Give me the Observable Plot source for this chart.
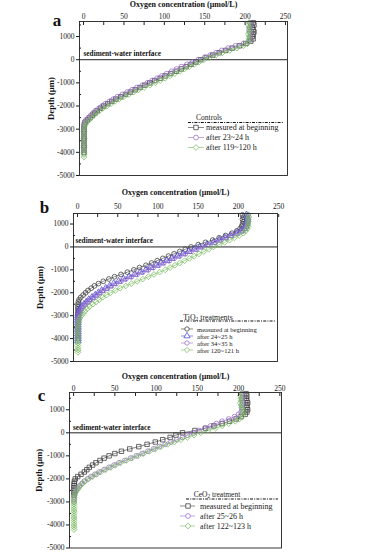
<!DOCTYPE html>
<html><head><meta charset="utf-8">
<script src="https://cdn.jsdelivr.net/npm/d3@7"></script>
<script src="https://cdn.jsdelivr.net/npm/@observablehq/plot@0.6"></script>
<style>
html,body{margin:0;padding:0;background:#fff;}
#page{position:relative;width:367px;height:553px;overflow:hidden;font-family:"Liberation Serif",serif;}
#page > svg{position:absolute;left:0;}
g[aria-label="x-axis label"] text{font-weight:bold;font-size:8px;fill:#111;}
g[aria-label="y-axis label"] text{font-weight:bold;font-size:8.7px;fill:#111;}
g[aria-label="x-axis tick label"] text, g[aria-label="y-axis tick label"] text{fill:#1a1a1a;}
</style></head><body><div id="page"></div>
<script>
// ---------- data ----------
const xTitle = "Oxygen concentration (μmol/L)";
const yTitle = "Depth (μm)";
const ifaceLabel = "sediment-water interface";
const xTicks = [0, 50, 100, 150, 200, 250];
const xMinorTicks = [0, 25, 50, 75, 100, 125, 150, 175, 200, 225, 250];
const yTicks = [1000, 0, -1000, -2000, -3000, -4000, -5000];
const yMinorTicks = [1500, 500, -500, -1500, -2500, -3500, -4500];
const panelLetters = ["a", "b", "c"];

const depthA = [1600,1500,1400,1300,1200,1100,1000,900,800,700,600,500,400,300,200,100,0,-100,-200,-300,-400,-500,-600,-700,-800,-900,-1000,-1100,-1200,-1300,-1400,-1500,-1600,-1700,-1800,-1900,-2000,-2100,-2200,-2300,-2400,-2500,-2600,-2700,-2800,-2900,-3000,-3100,-3200,-3300,-3400,-3500,-3600,-3700,-3800,-3900,-4000,-4100,-4200];
const aBegin = [210,211,209,210,211,210,209,210,207,201,193,184,176,168,160,152,145,139,133,127,121,115,108,101,95,88,82,76,70,64,58,52,46,40,35,30,25,21,17,14,11,8,5,2,1,0.8,0.5,0.6,0.4,0.5,0.7,0.5,0.4,0.6,0.5,0.5,0.6];
const a23h = [206,207,206,205,206,207,206,206,205,198,188,179,171,164,157,150,142,135,128,121,115,109,103,97,91,85,79,73,66,60,54,48,42,37,32,27,23,19,15,12,9,6,3,1.5,0.8,0.5,0.4,0.6,0.5,0.5,0.4,0.6,0.5,0.5,0.4,0.5,0.6];
const a119h = [205,204,205,206,205,204,205,205,204,203,198,190,181,172,164,156,149,143,137,131,125,119,113,107,101,95,89,82,75,68,62,56,50,44,39,34,29,24,20,16,13,10,7,4,2,1,0.6,0.5,0.7,0.5,0.6,0.5,0.4,0.6,0.5,0.7,0.5,0.6,0.5];

const depthB = [1400,1300,1200,1100,1000,900,800,700,600,500,400,300,200,100,0,-100,-200,-300,-400,-500,-600,-700,-800,-900,-1000,-1100,-1200,-1300,-1400,-1500,-1600,-1700,-1800,-1900,-2000,-2100,-2200,-2300,-2400,-2500,-2600,-2700,-2800,-2900,-3000,-3100,-3200,-3300,-3400,-3500,-3600,-3700,-3800,-3900,-4000,-4100,-4200,-4300,-4400,-4500,-4600];
const bBegin = [205,206,205,206,205,204,202,198,192,184,176,168,159,150,141,134,127,120,113,106,99,92,85,77,70,62,54,46,39,32,26,21,17,13,10,7,4,2,1,0.6,0.5,0.4,0.6,0.5,0.5];
const b24h = [210,211,211,210,210,209,207,203,197,190,183,176,169,161,152,145,138,131,124,117,111,104,98,91,85,78,71,64,57,51,45,40,35,30,26,22,18,14,11,8,5,3,2,1,0.6,0.5,0.4,0.6,0.5,0.5,0.4,0.6,0.5,0.5,0.6,0.5];
const b34h = [212,211,212,212,211,210,208,205,199,192,185,178,171,163,155,148,141,134,127,120,114,107,101,94,88,81,74,67,60,54,48,42,37,32,28,24,20,16,13,10,7,5,3,2,1,0.6,0.5,0.5,0.4,0.6,0.5,0.5,0.4,0.6,0.5];
const b120h = [212,213,212,212,212,212,211,209,206,201,195,189,183,176,169,163,157,151,145,139,133,127,121,115,109,102,95,88,81,74,67,60,53,47,41,36,31,27,23,19,15,12,9,7,5,3,2,1,0.7,0.5,0.6,0.5,0.4,0.6,0.5,0.5,0.6,0.4,0.5,0.6,0.5];

const depthC = [1700,1600,1500,1400,1300,1200,1100,1000,900,800,700,600,500,400,300,200,100,0,-100,-200,-300,-400,-500,-600,-700,-800,-900,-1000,-1100,-1200,-1300,-1400,-1500,-1600,-1700,-1800,-1900,-2000,-2100,-2200,-2300,-2400,-2500,-2600,-2700,-2800,-2900,-3000,-3100,-3200,-3300,-3400,-3500,-3600,-3700,-3800,-3900,-4000,-4100,-4200];
const cBegin = [209,210,209,210,211,210,210,211,210,208,203,197,189,180,170,160,147,132,124,117,108,99,89,79,68,58,50,43,37,32,27,23,19,16,13,9,5,2,1,0.6,0.5,0.4,0.6,0.5,0.5];
const c25h = [204,205,204,204,205,204,204,204,203,200,195,188,180,173,166,159,152,145,138,132,125,118,111,104,97,90,83,76,69,62,55,49,43,37,31,26,21,17,13,10,7,5,3,2,1,0.6,0.5,0.5];
const c122h = [203,202,203,203,202,203,204,205,206,206,204,201,196,188,180,172,163,154,146,138,130,122,114,106,99,92,85,78,71,64,57,51,45,39,33,28,23,18,14,11,8,6,4,2,1,0.6,0.5,0.6,0.5,0.4,0.5,0.6,0.5,0.5,0.4,0.6,0.5,0.5,0.6,0.5];

const legendTitleA = "Controls";
const legendTitleB = ["TiO", "2", " treatments"];
const legendTitleC = ["CeO", "2", " treatment"];
const labelsA = ["measured at beginning", "after 23~24 h", "after 119~120 h"];
const labelsB = ["measured at beginning", "after 24~25 h", "after 34~35 h", "after 120~121 h"];
const labelsC = ["measured at beginning", "after 25~26 h", "after 122~123 h"];

// ---------- styles ----------
const BLACK = "#3a3a3a", PURPLE = "#9a6cc8", BLUE = "#4646d2", GREEN = "#74b85a";
const SYM = {square: d3.symbolSquare, circle: d3.symbolCircle, diamond2: d3.symbolDiamond2, triangle: d3.symbolTriangle};

function rows(depths, values) { return values.map((v, i) => ({depth: depths[i], conc: v})); }

const page = d3.select("#page");

function panel(cfg) {
  const marks = [
    Plot.ruleY([0], {stroke: "#222", strokeWidth: 1}),
  ];
  cfg.series.forEach(s => {
    const data = rows(cfg.depths, s.values);
    marks.push(Plot.line(data, {x: "conc", y: "depth", stroke: s.color, strokeWidth: 0.6}));
    marks.push(Plot.dot(data, {x: "conc", y: "depth", symbol: s.symbol, stroke: s.color, fill: "none", r: s.r, strokeWidth: 0.75}));
  });
  marks.push(
    Plot.text([ifaceLabel], {y: () => 0, text: d => d, frameAnchor: "left", textAnchor: "start", dx: cfg.ifDx, dy: cfg.ifDy, fontWeight: "bold", fontSize: 7.3, fill: "#111"}),
    Plot.axisX({anchor: "top", ticks: xTicks, tickSize: 0, tickPadding: cfg.xPad, tickFormat: d => String(d), label: xTitle, labelAnchor: "center", labelOffset: cfg.xLabOff, labelArrow: "none", fill: "#1a1a1a"}),
    Plot.axisX({anchor: "top", ticks: xMinorTicks, tickSize: -3, tickFormat: () => "", label: null, stroke: "#222"}),
    Plot.axisY({anchor: "left", ticks: yTicks.filter(t => t <= cfg.yDomain[1]), tickSize: 3, tickPadding: 2, tickFormat: d => String(d), label: yTitle, labelAnchor: "center", labelOffset: cfg.yLabOff, labelArrow: "none", fill: "#1a1a1a"}),
    Plot.axisY({anchor: "left", ticks: yMinorTicks.filter(t => t <= cfg.yDomain[1]), tickSize: -2, tickFormat: () => "", label: null}),
    Plot.frame({stroke: "#222", strokeWidth: 0.9})
  );
  const svg = Plot.plot({
    width: 367, height: cfg.height,
    marginTop: cfg.mt, marginBottom: cfg.mb, marginLeft: cfg.ml, marginRight: cfg.mr,
    x: {domain: cfg.xDomain, axis: null},
    y: {domain: cfg.yDomain, axis: null},
    style: {fontFamily: "Liberation Serif", fontSize: "7.5px", color: "#1a1a1a", background: "transparent", overflow: "visible"},
    marks
  });
  svg.style.top = cfg.top + "px";
  page.node().appendChild(svg);
}

panel({top: 0, height: 180, mt: 21, mb: 5, ml: 79, mr: 80, xDomain: [-5, 252.5], yDomain: [-5000, 1650],
  xPad: 3, xLabOff: 20, yLabOff: 32, ifDx: 4, ifDy: -6, depths: depthA,
  series: [
    {values: aBegin, color: BLACK, symbol: "square", r: 2.5},
    {values: a23h, color: PURPLE, symbol: "circle", r: 2.4},
    {values: a119h, color: GREEN, symbol: "diamond2", r: 2.6}
  ]});
panel({top: 180, height: 186, mt: 33, mb: 5, ml: 73, mr: 90, xDomain: [-5, 248.5], yDomain: [-5000, 1460],
  xPad: 4.5, xLabOff: 24, yLabOff: 37, ifDx: 2, ifDy: -6, depths: depthB,
  series: [
    {values: bBegin, color: BLACK, symbol: "circle", r: 2.4},
    {values: b24h, color: BLUE, symbol: "triangle", r: 2.5},
    {values: b34h, color: PURPLE, symbol: "circle", r: 2.4},
    {values: b120h, color: GREEN, symbol: "diamond2", r: 2.6}
  ]});
panel({top: 366, height: 187, mt: 26, mb: 5.5, ml: 69, mr: 86, xDomain: [-5, 252], yDomain: [-5000, 1750],
  xPad: 2, xLabOff: 19, yLabOff: 34, ifDx: 3.5, ifDy: -5, depths: depthC,
  series: [
    {values: cBegin, color: BLACK, symbol: "square", r: 2.5},
    {values: c25h, color: PURPLE, symbol: "circle", r: 2.4},
    {values: c122h, color: GREEN, symbol: "diamond2", r: 2.6}
  ]});

// ---------- overlay: panel letters and legends ----------
const ov = page.append("svg").attr("width", 367).attr("height", 553).style("top", "0px")
  .attr("font-family", "Liberation Serif").style("pointer-events", "none");

[[57, 26], [44.5, 213], [41.5, 401]].forEach((p, i) => {
  ov.append("text").attr("x", p[0]).attr("y", p[1]).attr("text-anchor", "middle")
    .attr("font-size", 17).attr("font-weight", "bold").attr("fill", "#111").text(panelLetters[i]);
});

function legend(cfg) {
  const g = ov.append("g");
  const t = g.append("text").attr("x", cfg.titleX).attr("y", cfg.titleY).attr("text-anchor", "middle")
    .attr("dominant-baseline", "central").attr("font-size", cfg.titleSize).attr("fill", "#222");
  if (typeof cfg.title === "string") t.text(cfg.title);
  else {
    t.append("tspan").text(cfg.title[0]);
    t.append("tspan").attr("dy", 2).attr("font-size", cfg.titleSize * 0.7).text(cfg.title[1]);
    t.append("tspan").attr("dy", -2).text(cfg.title[2]);
  }
  g.append("line").attr("x1", cfg.dx1).attr("x2", cfg.dx2).attr("y1", cfg.dashY).attr("y2", cfg.dashY)
    .attr("stroke", "#111").attr("stroke-width", 1.1).attr("stroke-dasharray", "3,1.2,1,1.2");
  cfg.entries.forEach((e, i) => {
    const y = cfg.ys[i];
    g.append("line").attr("x1", cfg.lx1).attr("x2", cfg.lx2).attr("y1", y).attr("y2", y)
      .attr("stroke", e.color).attr("stroke-width", 0.6);
    g.append("path").attr("d", d3.symbol(SYM[e.symbol], Math.PI * e.r * e.r)())
      .attr("transform", `translate(${cfg.sx},${y})`).attr("fill", "#fff").attr("stroke", e.color).attr("stroke-width", 0.75);
    g.append("text").attr("x", cfg.tx).attr("y", y).attr("dominant-baseline", "central")
      .attr("font-size", cfg.size).attr("fill", "#222").text(cfg.labels[i]);
  });
}

legend({title: legendTitleA, titleX: 209, titleY: 117.5, titleSize: 7.5, dashY: 122.5, dx1: 188, dx2: 284,
  ys: [127.5, 137.5, 147.5], lx1: 188, lx2: 204, sx: 196, tx: 206, size: 8, labels: labelsA,
  entries: [{color: BLACK, symbol: "square", r: 2.5}, {color: PURPLE, symbol: "circle", r: 2.4}, {color: GREEN, symbol: "diamond2", r: 2.6}]});
legend({title: legendTitleB, titleX: 208, titleY: 316.5, titleSize: 7.8, dashY: 321, dx1: 180, dx2: 276,
  ys: [329, 336, 343, 350], lx1: 181, lx2: 193, sx: 187, tx: 197, size: 6.6, labels: labelsB,
  entries: [{color: BLACK, symbol: "circle", r: 2.2}, {color: BLUE, symbol: "triangle", r: 2.3}, {color: PURPLE, symbol: "circle", r: 2.2}, {color: GREEN, symbol: "diamond2", r: 2.4}]});
legend({title: legendTitleC, titleX: 217, titleY: 494, titleSize: 7.5, dashY: 499, dx1: 186, dx2: 278,
  ys: [506, 516, 526], lx1: 180, lx2: 195, sx: 188, tx: 200, size: 8, labels: labelsC,
  entries: [{color: BLACK, symbol: "square", r: 2.5}, {color: PURPLE, symbol: "circle", r: 2.4}, {color: GREEN, symbol: "diamond2", r: 2.6}]});
</script></body></html>
